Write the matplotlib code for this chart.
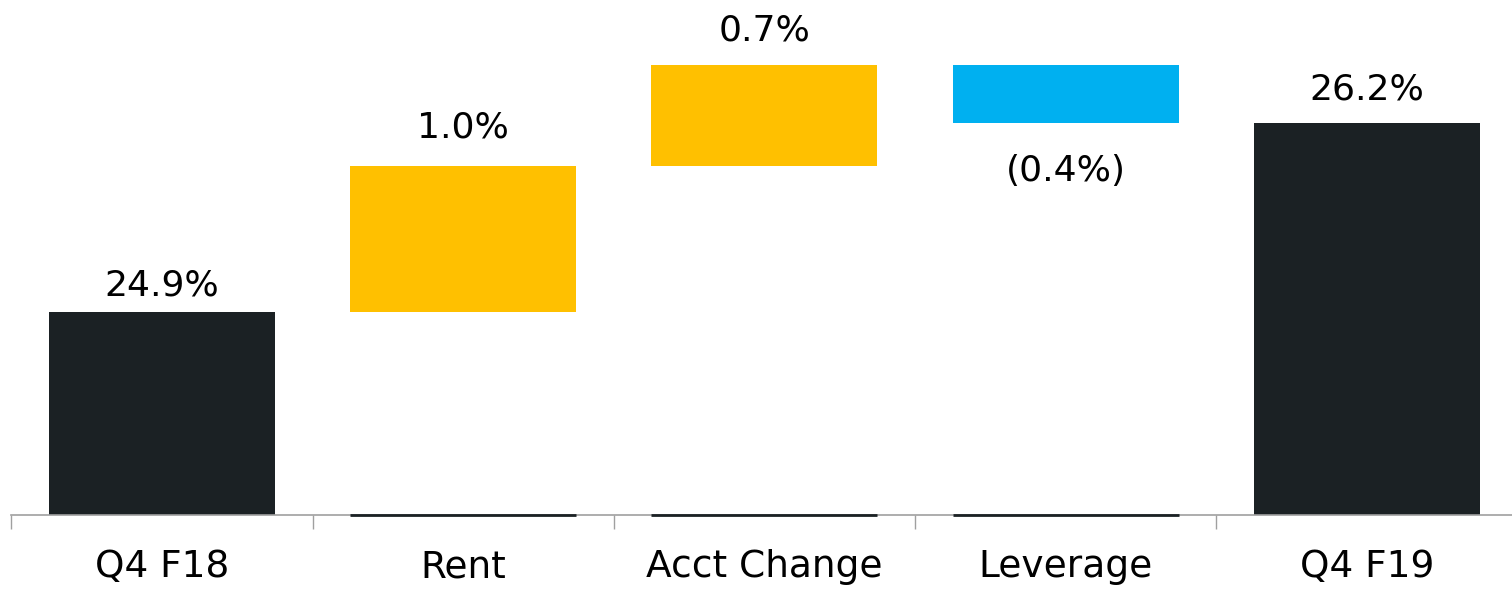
import numpy as np
import matplotlib.pyplot as plt

plt.rcParams['font.family'] = ['DejaVu Sans']

categories = ["Q4 F18", "Rent", "Acct Change", "Leverage", "Q4 F19"]
start_value = 24.9
changes = [1.0, 0.7, -0.4]
end_value = 26.2
labels = ["24.9%", "1.0%", "0.7%", "(0.4%)", "26.2%"]

DARK = "#1b2124"
YELLOW = "#FFC000"
BLUE = "#00B0F0"
YMIN, YMAX = 23.5, 27.0

# label offsets (points) from the bar edge, as placed in the original
label_offsets = [11.5, 20.5, 17.5, -42, 16.5]


def main():
    fig = plt.figure(figsize=(15.12, 5.91), dpi=100)
    ax = fig.add_axes([11.4 / 1512, 1 - 515 / 591, 1506 / 1512, 508.6 / 591])

    x = np.arange(len(categories))
    width = 0.75

    # totals
    ax.bar(x[0], start_value - YMIN, bottom=YMIN, width=width, color=DARK)
    ax.bar(x[-1], end_value - YMIN, bottom=YMIN, width=width, color=DARK)

    # label anchors: top of bar for increases, bottom for decreases
    anchors = [start_value]

    # floating changes
    level = start_value
    for i, ch in enumerate(changes, start=1):
        col = YELLOW if ch > 0 else BLUE
        lo = min(level, level + ch)
        ax.bar(x[i], abs(ch), bottom=lo, width=width, color=col)
        ax.hlines(YMIN, x[i] - width / 2, x[i] + width / 2, color=DARK,
                  lw=2, clip_on=False, zorder=5)
        level += ch
        anchors.append(level)
    anchors.append(end_value)

    for i, (a, off) in enumerate(zip(anchors, label_offsets)):
        ax.annotate(labels[i], (x[i], a), xytext=(0, off),
                    textcoords="offset points", ha="center", va="baseline",
                    fontsize=26, color="black")

    ax.set_xlim(-0.5, len(categories) - 0.5)
    ax.set_ylim(YMIN, YMAX)
    ax.set_yticks([])
    ax.set_xticks(x)
    ax.set_xticklabels(categories, fontsize=27)
    ax.tick_params(axis="x", which="major", length=0, pad=24.5)
    ax.set_xticks(np.arange(len(categories)) - 0.5, minor=True)
    ax.tick_params(axis="x", which="minor", length=10, color="#a0a0a0", width=1)
    for s in ["top", "right", "left"]:
        ax.spines[s].set_visible(False)
    ax.spines["bottom"].set_color("#a0a0a0")
    ax.spines["bottom"].set_linewidth(1.2)

    fig.savefig("out.png", dpi=100)


if __name__ == "__main__":
    main()
